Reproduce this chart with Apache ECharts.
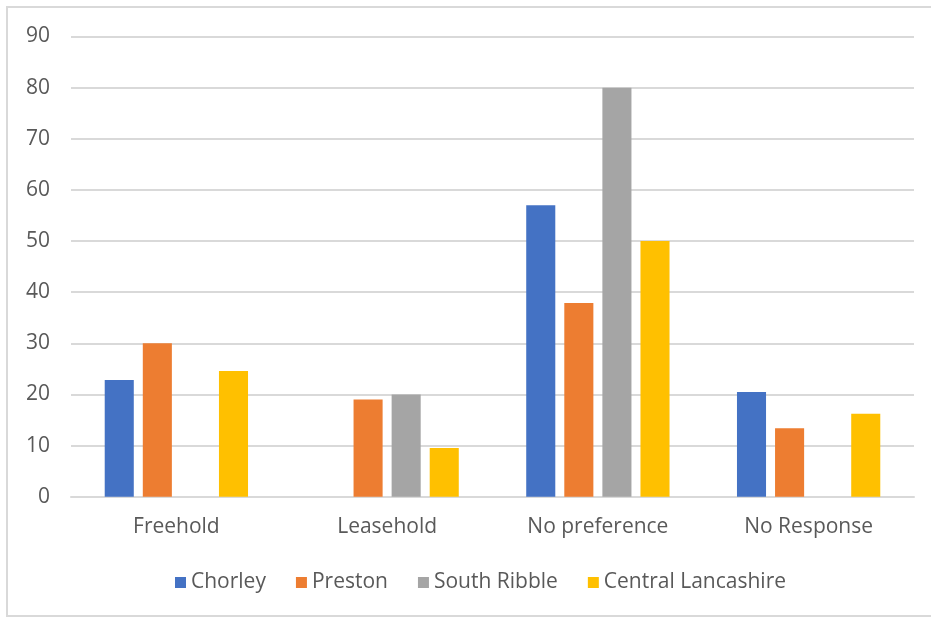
<!DOCTYPE html>
<html>
<head>
<meta charset="utf-8">
<script src="https://cdn.jsdelivr.net/npm/echarts@6/dist/echarts.min.js"></script>
<style>
html,body{margin:0;padding:0;background:#fff;}
#c{width:931px;height:617px;}
</style>
</head>
<body>
<div id="c"></div>
<script>
const categories = ["Freehold", "Leasehold", "No preference", "No Response"];
const seriesNames = ["Chorley", "Preston", "South Ribble", "Central Lancashire"];
const chorley = [22.8, 0, 57, 20.5];
const preston = [30, 19, 37.9, 13.4];
const southRibble = [0, 20, 80, 0];
const centralLancashire = [24.6, 9.5, 50, 16.2];
const colors = ["#4472C4", "#ED7D31", "#A5A5A5", "#FFC000"];

const values = [chorley, preston, southRibble, centralLancashire];
const font = "'Open Sans', Lato, sans-serif";
const chart = echarts.init(document.getElementById('c'));
chart.setOption({
  animation: false,
  backgroundColor: '#fff',
  textStyle: { fontFamily: font },
  graphic: [{
    type: 'rect',
    shape: { x: 7, y: 7, width: 940, height: 609 },
    style: { fill: 'none', stroke: '#d9d9d9', lineWidth: 2 },
    silent: true
  }],
  grid: { left: 71, right: 17, top: 36.5, bottom: 120.3 },
  legend: {
    data: seriesNames,
    top: 567,
    left: 170,
    itemWidth: 11,
    itemHeight: 11,
    itemGap: 30,
    icon: 'rect',
    textStyle: { color: '#595959', fontSize: 21, fontFamily: font }
  },
  xAxis: {
    type: 'category',
    data: categories,
    axisLine: { show: true, lineStyle: { color: '#d9d9d9', width: 2 } },
    axisTick: { show: false },
    axisLabel: { color: '#595959', fontSize: 21, margin: 20, fontFamily: font }
  },
  yAxis: {
    type: 'value',
    min: 0, max: 90, interval: 10,
    axisLine: { show: false },
    axisTick: { show: false },
    splitLine: { lineStyle: { color: '#d9d9d9', width: 2 } },
    axisLabel: { color: '#595959', fontSize: 21, margin: 21, fontFamily: font }
  },
  series: seriesNames.map((n, i) => ({
    name: n,
    type: 'bar',
    data: values[i],
    barGap: '31%',
    barCategoryGap: '32%',
    itemStyle: { color: colors[i] }
  }))
});
</script>
</body>
</html>
